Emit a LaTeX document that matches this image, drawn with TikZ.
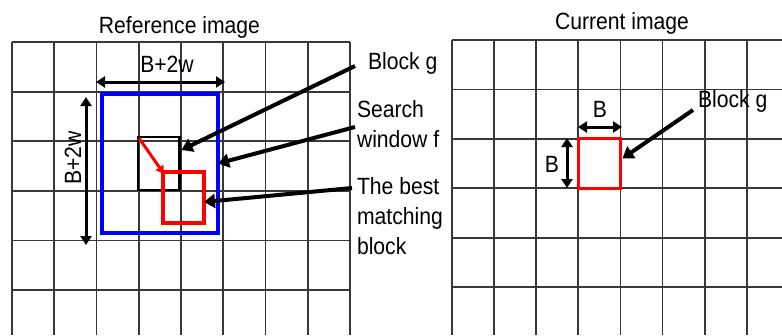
\documentclass[tikz,border=0pt]{standalone}
\usepackage{fontspec}
\setmainfont{Liberation Sans}
\newfontfamily\labelfont[FakeStretch=0.9]{Liberation Sans}
\usetikzlibrary{arrows.meta,calc}
\definecolor{gridgray}{HTML}{383838}
\definecolor{winblue}{HTML}{0000FF}
\definecolor{blkred}{HTML}{FF0000}
\begin{document}
\begin{tikzpicture}[x=1pt,y=-1pt,
  gridline/.style={draw=gridgray,line width=1.8pt},
  lbl/.style={font=\labelfont\fontsize{23.5}{30}\selectfont,inner sep=0pt,outer sep=0pt},
  dimarrow/.style={line width=3pt,{Triangle[length=9pt,width=11pt]}-{Triangle[length=9pt,width=11pt]}},
  callout/.style={line width=4pt,-{Triangle[length=11pt,width=14pt]}},
  boxnode/.style={inner sep=0pt,outer sep=0pt,line width=3.2pt}
]
\useasboundingbox (0,0) rectangle (782,335);
% ---------- left grid ----------
\foreach \i in {0,...,8} \draw[gridline] ({12+42.25*\i},42) -- ({12+42.25*\i},335);
\foreach \j in {0,...,5} \draw[gridline] (12,{42+49.6*\j}) -- (350,{42+49.6*\j});
% ---------- right grid ----------
\foreach \i in {0,...,7} \draw[gridline] ({452+42.1*\i},40) -- ({452+42.1*\i},335);
\foreach \j in {0,...,5} \draw[gridline] (452,{40+49.4*\j}) -- (782,{40+49.4*\j});
% ---------- titles ----------
\node[lbl,anchor=base] (reftitle) at (179.5,33) {Reference image};
\node[lbl,anchor=base] (curtitle) at (622,29) {Current image};
% ---------- reference image boxes ----------
\node[boxnode,draw=winblue,minimum width=116pt,minimum height=139pt] (win) at (160,163.5) {};
\node[boxnode,draw=black,line width=2.6pt,minimum width=41.5pt,minimum height=53pt] (blk) at (158.75,163.5) {};
\node[boxnode,draw=blkred,minimum width=41pt,minimum height=51pt] (best) at (183.5,197.5) {};
\draw[blkred,line width=3pt,-{Triangle[length=8pt,width=9pt]}] ($(blk.north west)+(1,1)$) -- ($(best.north west)+(1,2)$);
% ---------- dimension arrows (reference) ----------
\coordinate (hl) at (96,82);
\coordinate (hr) at (225,82);
\coordinate (vt) at (86,97);
\coordinate (vb) at (86,245);
\draw[dimarrow] (hl) -- (hr);
\draw[dimarrow] (vt) -- (vb);
\node[lbl,anchor=base] (hlab) at (167,72) {B+2w};
\node[lbl,rotate=90] (vlab) at (73,158) {B+2w};
% ---------- callout labels (reference) ----------
\node[lbl,anchor=base west] (labg) at (368,69) {Block g};
\node[lbl,anchor=north west,align=left] (labf) at (357,100) {Search\\window f};
\node[lbl,anchor=north west,align=left] (labb) at (357,177.5) {The best\\matching\\block};
\draw[callout] ($(labg.base west)+(-13,-3)$) -- ($(blk.north east)+(2,13)$);
\draw[callout] ($(labf.north west)+(-2,27)$) -- (win.east);
\draw[callout] ($(labb.north west)+(-5,10.5)$) -- ($(best.east)+(0,4.5)$);
% ---------- current image ----------
\node[boxnode,draw=blkred,minimum width=42.1pt,minimum height=49.4pt] (cur) at (599.35,163.5) {};
\coordinate (bl) at (578,127);
\coordinate (br) at (622,127);
\coordinate (bt) at (567,138);
\coordinate (bb) at (567,188);
\draw[dimarrow] (bl) -- (br);
\draw[dimarrow] (bt) -- (bb);
\node[lbl,anchor=base] (btop) at (600,117) {B};
\node[lbl,anchor=base] (bleft) at (552,172) {B};
\node[lbl,anchor=base west] (labg2) at (698,107) {Block g};
\draw[callout] ($(labg2.base west)+(-5,3)$) -- ($(cur.east)+(2,-5)$);
\end{tikzpicture}
\end{document}
